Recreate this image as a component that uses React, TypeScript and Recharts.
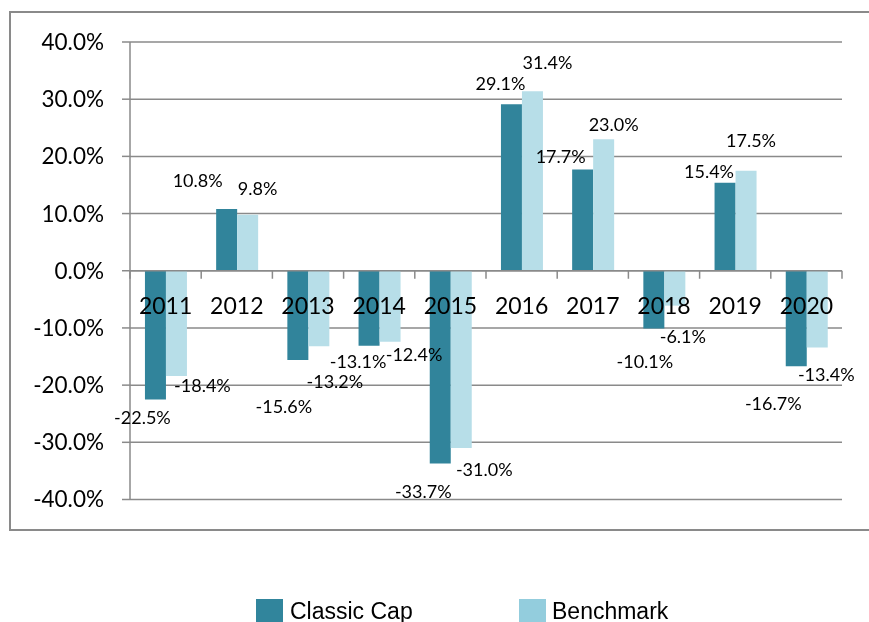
import { BarChart, Bar, XAxis, YAxis, CartesianGrid, ReferenceLine } from "recharts"

const years = ["2011", "2012", "2013", "2014", "2015", "2016", "2017", "2018", "2019", "2020"]
const classicCap = [-22.5, 10.8, -15.6, -13.1, -33.7, 29.1, 17.7, -10.1, 15.4, -16.7]
const benchmark = [-18.4, 9.8, -13.2, -12.4, -31.0, 31.4, 23.0, -6.1, 17.5, -13.4]
const yTicks = [-40, -30, -20, -10, 0, 10, 20, 30, 40]

// hand-placed label nudges (dx, dy from the bar end), like the original sheet
const classicNudge = [[-13, 18], [-29, -28], [-14, 47], [-11, 16], [-17, 28], [-11, -21], [-22, -13], [-9, 33], [-16, -11], [-23, 37]]
const benchNudge = [[26, 10], [10, -26], [16, 35], [24, 13], [23, 21], [15, -29], [10, -15], [8, 31], [5, -30], [9, 27]]

const data = years.map((year, i) => ({ year, classic: classicCap[i], bench: benchmark[i] }))

const W = 861
const H = 523
const MARGIN = { top: 34, right: 27, left: 0, bottom: 30.5 }
const Y_AXIS_W = 122
const X_AXIS_H = 1
const PLOT_W = W - MARGIN.left - MARGIN.right - Y_AXIS_W
const PLOT_H = H - MARGIN.top - MARGIN.bottom - X_AXIS_H
const ZERO_Y = MARGIN.top + PLOT_H / 2
const BAND = PLOT_W / years.length

const GRID = "#8a8a8a"
const FONT = "Lato, 'Liberation Sans', sans-serif"
const LEGEND_FONT = "'Liberation Sans', Arial, sans-serif"

const YearTick = (props: any) => {
  const { x, index, payload } = props
  const last = index === years.length - 1
  return (
    <g>
      <line x1={x - BAND / 2} x2={x - BAND / 2} y1={ZERO_Y} y2={ZERO_Y + 8} stroke={GRID} strokeWidth={1.5} />
      {last && <line x1={x + BAND / 2} x2={x + BAND / 2} y1={ZERO_Y} y2={ZERO_Y + 8} stroke={GRID} strokeWidth={1.5} />}
      <text x={x} y={ZERO_Y + 43} textAnchor="middle" fontSize={23} fontFamily={FONT} fill="#000">
        {payload.value}
      </text>
    </g>
  )
}

const makeLabel = (nudges: number[][]) => (props: any) => {
  const vb = props.viewBox ?? {}
  const x = Number(props.x ?? vb.x)
  const y = Number(props.y ?? vb.y)
  const w = Number(props.width ?? vb.width)
  const h = Number(props.height ?? vb.height)
  const v = Number(props.value)
  const i = props.index ?? 0
  const endY = v >= 0 ? Math.min(y, y + h) : Math.max(y, y + h)
  const [dx, dy] = nudges[i] ?? [0, 0]
  return (
    <text x={x + w / 2 + dx} y={endY + dy + 6.5} textAnchor="middle" fontSize={18} fontFamily={FONT} fill="#000">
      {`${v.toFixed(1)}%`}
    </text>
  )
}

export default function App() {
  return (
    <div style={{ position: "fixed", left: 8, top: 8, width: W, height: 614, overflow: "hidden" }}>
      <div
        style={{
          position: "absolute",
          left: 1,
          top: 3,
          width: 860,
          height: 520,
          boxSizing: "border-box",
          border: `2px solid ${GRID}`,
          borderRight: "none",
        }}
      />
      <div style={{ position: "absolute", left: 0, top: 0 }}>
        <BarChart width={W} height={H} data={data} margin={MARGIN} barCategoryGap="21%" barGap={0}>
          <CartesianGrid vertical={false} stroke={GRID} strokeWidth={1.5} />
          <XAxis
            dataKey="year"
            height={X_AXIS_H}
            axisLine={false}
            tickLine={false}
            interval={0}
            tick={<YearTick />}
          />
          <YAxis
            width={Y_AXIS_W}
            domain={[-40, 40]}
            ticks={yTicks}
            tickFormatter={(v) => `${Number(v).toFixed(1)}%`}
            axisLine={{ stroke: GRID, strokeWidth: 1.5 }}
            tickLine={{ stroke: GRID, strokeWidth: 1.5 }}
            tickSize={8}
            tickMargin={18}
            tick={{ fontSize: 22.5, fontFamily: FONT, fill: "#000" }}
          />
          <Bar dataKey="classic" fill="#31849B" isAnimationActive={false} label={makeLabel(classicNudge)} />
          <Bar dataKey="bench" fill="#B7DEE8" isAnimationActive={false} label={makeLabel(benchNudge)} />
          <ReferenceLine y={0} stroke={GRID} strokeWidth={1.5} />
        </BarChart>
      </div>
      <div style={{ position: "absolute", left: 248, top: 591, width: 27, height: 27, background: "#31859C" }} />
      <div style={{ position: "absolute", left: 282, top: 592, fontSize: 23, lineHeight: "23px", fontFamily: LEGEND_FONT, whiteSpace: "nowrap" }}>
        Classic Cap
      </div>
      <div style={{ position: "absolute", left: 511, top: 591, width: 27, height: 27, background: "#93CDDD" }} />
      <div style={{ position: "absolute", left: 544, top: 592, fontSize: 23, lineHeight: "23px", fontFamily: LEGEND_FONT, whiteSpace: "nowrap" }}>
        Benchmark
      </div>
    </div>
  )
}
